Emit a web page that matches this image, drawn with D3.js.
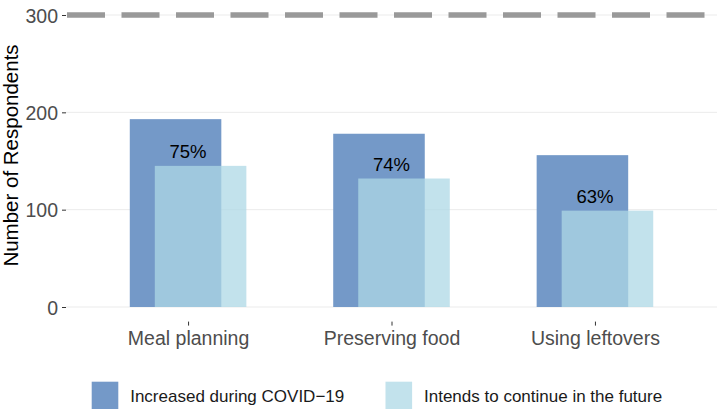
<!DOCTYPE html>
<html>
<head>
<meta charset="utf-8">
<script src="https://cdn.jsdelivr.net/npm/d3@7"></script>
<style>
    html, body { margin: 0; padding: 0; background: #fff; }
    svg { display: block; font-family: "Liberation Sans", Arial, sans-serif; }
    .grid-line { stroke: #ebebeb; stroke-width: 1; }
    .tick-label { fill: #4d4d4d; font-size: 19.5px; }
    .pct-label { fill: #000; font-size: 18.5px; }
    .legend-label { fill: #1a1a1a; font-size: 17px; }
</style>
</head>
<body>
<div id="chart"></div>
<script>
const categories = ["Meal planning", "Preserving food", "Using leftovers"];
const increased = [193, 178, 156];
const intends = [145, 132, 99];
const pctLabels = ["75%", "74%", "63%"];
const yTicks = [0, 100, 200, 300];
const referenceLine = 300;
const seriesNames = ["Increased during COVID\u221219", "Intends to continue in the future"];

const width = 717;
const height = 409;
const panel = { left: 66, right: 717, top: 0, bottom: 321.6 };

const darkFill = "#7499c8";
const lightFill = "#add8e6";

const svg = d3.select("#chart")
    .append("svg")
    .attr("width", width)
    .attr("height", height);

// scales: discrete x with ggplot-like 0.6 expansion, y from 0 to 300
const x = d3.scalePoint()
    .domain(categories)
    .range([panel.left, panel.right])
    .padding(0.6);

const y = d3.scaleLinear()
    .domain([0, 300])
    .range([307, 15]);

const step = x.step();
const barWidth = step * 0.45;
const shift = step * 0.0615;

// horizontal grid lines
svg.append("g")
    .selectAll("line")
    .data(yTicks)
    .join("line")
    .attr("class", "grid-line")
    .attr("x1", panel.left)
    .attr("x2", panel.right)
    .attr("y1", d => y(d))
    .attr("y2", d => y(d));

// y axis (ticks + labels only)
const yAxis = svg.append("g")
    .attr("transform", `translate(${panel.left},0)`)
    .call(d3.axisLeft(y).tickValues(yTicks).tickSize(4).tickPadding(4));
yAxis.select(".domain").remove();
yAxis.selectAll(".tick line").attr("stroke", "#333").attr("stroke-width", 1);
yAxis.selectAll(".tick text")
    .attr("class", "tick-label")
    .attr("font-family", null)
    .attr("font-size", null)
    .attr("fill", null)
    .attr("dy", "0.36em");

// x axis (ticks + labels only)
const xAxis = svg.append("g")
    .attr("transform", `translate(0,${panel.bottom})`)
    .call(d3.axisBottom(x).tickSize(4).tickPadding(0));
xAxis.select(".domain").remove();
xAxis.selectAll(".tick line").attr("stroke", "#333").attr("stroke-width", 1);
xAxis.selectAll(".tick text")
    .attr("class", "tick-label")
    .attr("font-family", null)
    .attr("font-size", null)
    .attr("fill", null)
    .attr("dy", null)
    .attr("y", 345 - panel.bottom);

// bars: dark first, then semi-transparent light bars shifted right
svg.append("g")
    .selectAll("rect")
    .data(categories)
    .join("rect")
    .attr("x", (d, i) => x(d) - shift - barWidth / 2)
    .attr("y", (d, i) => y(increased[i]))
    .attr("width", barWidth)
    .attr("height", (d, i) => y(0) - y(increased[i]))
    .attr("fill", darkFill);

svg.append("g")
    .selectAll("rect")
    .data(categories)
    .join("rect")
    .attr("x", (d, i) => x(d) + shift - barWidth / 2)
    .attr("y", (d, i) => y(intends[i]))
    .attr("width", barWidth)
    .attr("height", (d, i) => y(0) - y(intends[i]))
    .attr("fill", lightFill)
    .attr("fill-opacity", 0.75);

// percentage labels above the light bars
svg.append("g")
    .selectAll("text")
    .data(categories)
    .join("text")
    .attr("class", "pct-label")
    .attr("x", d => x(d))
    .attr("y", (d, i) => y(intends[i]) - 8)
    .attr("text-anchor", "middle")
    .text((d, i) => pctLabels[i]);

// dashed reference line at 300
svg.append("line")
    .attr("x1", panel.left + 1)
    .attr("x2", panel.right)
    .attr("y1", y(referenceLine))
    .attr("y2", y(referenceLine))
    .attr("stroke", "#999999")
    .attr("stroke-width", 5.5)
    .attr("stroke-dasharray", "38,16.5");

// y axis title
svg.append("text")
    .attr("transform", `translate(18,${(42 + 269) / 2}) rotate(-90)`)
    .attr("text-anchor", "middle")
    .attr("font-size", "20.5px")
    .attr("fill", "#000")
    .text("Number of Respondents");

// legend
const legendItems = [
    { name: seriesNames[0], fill: darkFill, opacity: 1, keyX: 91.7 },
    { name: seriesNames[1], fill: lightFill, opacity: 0.75, keyX: 385.5 }
];

const legend = svg.append("g");
legendItems.forEach(item => {
    legend.append("rect")
        .attr("x", item.keyX)
        .attr("y", 381.7)
        .attr("width", 26.6)
        .attr("height", 30)
        .attr("fill", item.fill)
        .attr("fill-opacity", item.opacity);

    legend.append("text")
        .attr("class", "legend-label")
        .attr("x", item.keyX + 38.5)
        .attr("y", 401.7)
        .text(item.name);
});
</script>
</body>
</html>
